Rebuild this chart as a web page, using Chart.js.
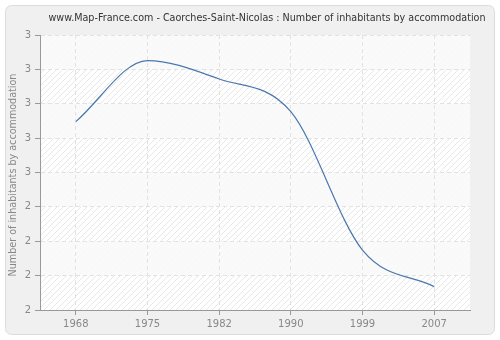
<!DOCTYPE html>
<html>
<head>
<meta charset="utf-8">
<script src="https://cdn.jsdelivr.net/npm/chart.js@4"></script>
<style>
  html, body { margin: 0; padding: 0; background: #fff; }
  #wrap { width: 500px; height: 340px; }
</style>
</head>
<body>
<div id="wrap"><canvas id="chart" width="500" height="340"></canvas></div>
<script>
const years = ['1968', '1975', '1982', '1990', '1999', '2007'];
const inhabitants = [2.685, 2.907, 2.84, 2.721, 2.218, 2.085];
const yTickLabels = ['2', '2', '2', '2', '3', '3', '3', '3', '3'];
const chartTitle = 'www.Map-France.com - Caorches-Saint-Nicolas : Number of inhabitants by accommodation';
const yTitle = 'Number of inhabitants by accommodation';

const FONT = '"DejaVu Sans", Verdana, sans-serif';

function hatchPattern(ctx) {
  const c = document.createElement('canvas');
  c.width = 6; c.height = 6;
  const g = c.getContext('2d');
  g.strokeStyle = '#e8e8e8';
  g.lineWidth = 1;
  g.beginPath();
  g.moveTo(0, 6); g.lineTo(6, 0);
  g.moveTo(-1, 1); g.lineTo(1, -1);
  g.moveTo(5, 7); g.lineTo(7, 5);
  g.stroke();
  return ctx.createPattern(c, 'repeat');
}

const background = {
  id: 'background',
  beforeDraw(chart) {
    const { ctx, chartArea: a, scales } = chart;
    ctx.save();
    ctx.fillStyle = '#ffffff';
    ctx.fillRect(0, 0, chart.width, chart.height);
    ctx.fillStyle = '#f0f0f0';
    ctx.strokeStyle = '#dcdcdc';
    ctx.lineWidth = 1;
    ctx.beginPath();
    ctx.roundRect(5.5, 5.5, 489, 329, 6);
    ctx.fill();
    ctx.stroke();

    ctx.fillStyle = '#ffffff';
    ctx.fillRect(a.left, a.top, a.right - a.left, a.bottom - a.top);
    ctx.fillStyle = hatchPattern(ctx);
    ctx.fillRect(a.left, a.top, a.right - a.left, a.bottom - a.top);
    // alternating lighter bands
    const ticks = scales.y.ticks;
    ctx.fillStyle = 'rgba(249,249,249,0.85)';
    for (let i = 0; i < ticks.length - 1; i++) {
      if (i % 2 === 0) continue;
      const y1 = scales.y.getPixelForValue(ticks[i].value);
      const y2 = scales.y.getPixelForValue(ticks[i + 1].value);
      ctx.fillRect(a.left, y2, a.right - a.left, y1 - y2);
    }

    ctx.fillStyle = '#333333';
    ctx.font = '9.6px ' + FONT;
    ctx.textAlign = 'center';
    ctx.textBaseline = 'middle';
    ctx.fillText(chartTitle, 267, 18);

    ctx.translate(13, 175);
    ctx.rotate(-Math.PI / 2);
    ctx.fillStyle = '#888888';
    ctx.fillText(yTitle, 0, 0);
    ctx.restore();
  }
};

new Chart(document.getElementById('chart'), {
  type: 'line',
  data: {
    labels: years,
    datasets: [{
      data: inhabitants,
      borderColor: '#4a78ae',
      borderWidth: 1.2,
      pointRadius: 0,
      fill: false,
      cubicInterpolationMode: 'monotone'
    }]
  },
  options: {
    responsive: false,
    animation: false,
    layout: { padding: { top: 35, right: 30, left: 0, bottom: 0 } },
    plugins: { legend: { display: false }, tooltip: { enabled: false } },
    scales: {
      x: {
        offset: true,
        afterFit: s => { s.height = 30; },
        grid: { color: '#e2e2e2', tickColor: '#999999', tickLength: 5, offset: false },
        border: { color: '#999999', width: 1, dash: [4, 3] },
        ticks: { color: '#888888', font: { family: FONT, size: 10 }, padding: 3, maxRotation: 0 }
      },
      y: {
        min: 2,
        max: 3,
        afterFit: s => { s.width = 40; },
        afterBuildTicks: s => {
          s.ticks = yTickLabels.map((_, i) => ({ value: 2 + i * 0.125 }));
        },
        grid: { color: '#e2e2e2', tickColor: '#999999', tickLength: 5 },
        border: { color: '#999999', width: 1, dash: [4, 3] },
        ticks: {
          color: '#888888',
          font: { family: FONT, size: 10 },
          padding: 4,
          callback: (v, i) => yTickLabels[i]
        }
      }
    }
  },
  plugins: [background]
});
</script>
</body>
</html>
